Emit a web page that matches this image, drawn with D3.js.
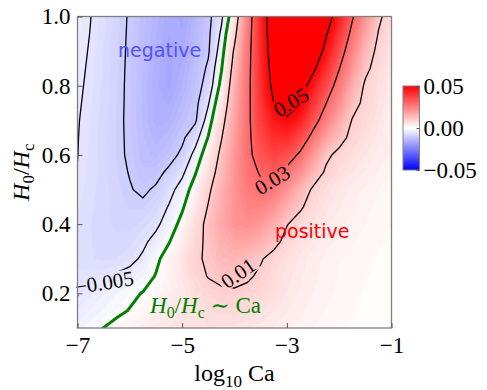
<!doctype html>
<html>
<head>
  <meta charset='utf-8'>
  <style>
    body { margin: 0; background: #fff; }
    svg text { font-family: 'Liberation Serif', 'DejaVu Serif', serif; }
    .tick text { font-size: 23px; }
  </style>
</head>
<body>
  <svg width='487' height='390'></svg>
  <script src='https://d3js.org/d3.v7.min.js'></script>
  <script>
    // grid: log10 Ca along x, H0/Hc along y
    var logCa = [-7, -6.75, -6.5, -6.25, -6, -5.75, -5.5, -5.25, -5, -4.75, -4.5, -4.25,
                 -4, -3.75, -3.5, -3.25, -3, -2.75, -2.5, -2.25, -2, -1.75, -1.5, -1.25, -1];
    var ratio = [0.1, 0.15, 0.2, 0.25, 0.3, 0.35, 0.4, 0.45, 0.5, 0.55,
                 0.6, 0.65, 0.7, 0.75, 0.8, 0.85, 0.9, 0.95, 1.0];

    // field values, in units of 1e-3, one row per H0/Hc value
    var row010 = [-2.6, -1.3, 0.05, 1.3, 2.5, 3.5, 4.4, 5.1, 5.6, 5.9, 6.0, 5.9, 5.6, 5.1, 4.5, 3.9, 3.2, 2.6, 2.0, 1.6, 1.2, 0.9, 0.6, 0.45, 0.3];
    var row015 = [-3.9, -2.9, -1.9, -0.9, 0.2, 1.4, 2.6, 3.8, 4.9, 5.9, 6.8, 7.3, 7.4, 6.9, 6.05, 5.1, 4.1, 3.25, 2.5, 1.95, 1.45, 1.1, 0.75, 0.55, 0.4];
    var row020 = [-5.2, -4.2, -3.1, -2.0, -0.9, 0.2, 1.5, 3.0, 4.6, 6.3, 8.0, 9.0, 9.2, 8.6, 7.6, 6.3, 5.0, 3.9, 3.0, 2.3, 1.7, 1.3, 0.9, 0.7, 0.5];
    var row025 = [-5.75, -5.55, -5.15, -4.5, -3.55, -2.05, 0.25, 2.6, 5.05, 8.0, 10.3, 11.4, 11.75, 10.8, 9.05, 7.15, 5.5, 4.25, 3.25, 2.5, 1.9, 1.45, 1.05, 0.8, 0.6];
    var row030 = [-6.3, -6.9, -7.2, -7.0, -6.2, -4.3, -1.0, 2.2, 5.5, 8.7, 11.2, 13.8, 14.3, 13, 10.5, 8, 6, 4.6, 3.5, 2.7, 2.1, 1.6, 1.2, 0.9, 0.7];
    var row035 = [-6.25, -6.95, -7.45, -7.65, -7.35, -5.95, -3.5, -0.25, 3.55, 7.65, 11.6, 15.4, 17.65, 17.5, 15.25, 12, 8.15, 6.05, 4.55, 3.5, 2.7, 2.1, 1.6, 1.15, 0.85];
    var row040 = [-6.2, -7.0, -7.7, -8.3, -8.5, -7.6, -6, -2.7, 1.6, 6.6, 12, 17, 21, 22, 20, 16, 10.3, 7.5, 5.6, 4.3, 3.3, 2.6, 2, 1.4, 1];
    var row045 = [-5.85, -6.8, -7.65, -8.5, -9.1, -9.2, -7.7, -4.65, -0.7, 4.55, 10.4, 16, 21, 24, 24, 21, 15.75, 11, 7.3, 5.4, 4.05, 3.1, 2.35, 1.7, 1.25];
    var row050 = [-5.5, -6.6, -7.6, -8.7, -9.75, -10.75, -9.4, -6.6, -3, 2.5, 8.75, 15, 21, 26, 28, 26, 21, 14.5, 9, 6.5, 4.8, 3.6, 2.7, 2, 1.5];
    var row055 = [-5.1, -6.45, -7.65, -8.9, -10.2, -11.7, -11.35, -9.1, -6.05, -0.45, 6.1, 13.45, 20.5, 27.05, 30.75, 31.5, 27.75, 21.55, 14.5, 8.95, 6.5, 5.05, 3.85, 2.9, 2.2];
    var row060 = [-4.95, -6.3, -7.7, -9.1, -10.6, -12.6, -13.3, -11.6, -9.1, -3.4, 3.4, 11.9, 20, 28.1, 33.5, 37, 34.5, 28.6, 20, 11.4, 8.2, 6.5, 5, 3.8, 2.9];
    var row065 = [-4.9, -6.2, -7.65, -9.1, -10.7, -12.9, -14.45, -13.3, -10.85, -7.05, 0.35, 9.6, 18.75, 28, 35.75, 41, 41.5, 36.3, 27, 18.2, 12.55, 8.05, 6.2, 4.5, 2.95];
    var row070 = [-4.8, -6.1, -7.6, -9.05, -10.85, -13.2, -15.6, -15, -12.6, -10.7, -2.7, 7.3, 17.5, 27.9, 38, 45, 48.5, 44, 34, 25, 16.9, 9.6, 7.4, 5.2, 3];
    var row075 = [-4.6, -5.9, -7.45, -8.98, -10.8, -13.2, -15.7, -16.15, -13.8, -11.35, -5.4, 4.5, 16.25, 27.7, 39, 50, 55, 51, 39.5, 30.2, 21.5, 12.8, 8.2, 5.85, 3.5];
    var row080 = [-4.4, -5.7, -7.3, -8.9, -10.8, -13.2, -15.8, -17.3, -15, -12, -8.1, 1.7, 15, 27.5, 40, 53, 61.5, 56, 44.5, 35.4, 26, 16, 9, 6.5, 4];
    var row085 = [-4.2, -5.5, -7.2, -8.85, -10.7, -13.05, -15.5, -17.3, -15.75, -12.6, -9.3, -0.4, 13.1, 27, 40.5, 55, 63.75, 62.5, 52.25, 40.85, 30.35, 20, 11.5, 7.4, 4.75];
    var row090 = [-4.0, -5.3, -7.05, -8.8, -10.6, -12.9, -15.2, -17.3, -16.5, -13.2, -10.5, -2.5, 11.2, 26.4, 40.9, 57, 66, 69, 60, 46.3, 34.7, 24, 14, 8.3, 5.5];
    var row095 = [-3.75, -5.1, -6.9, -8.7, -10.5, -12.7, -14.9, -17.0, -16.9, -13.85, -10.9, -4.2, 7.7, 25.4, 41.1, 58.5, 67, 70.5, 63.5, 51, 39, 27.5, 17.5, 9.7, 6.2];
    var row100 = [-3.5, -4.95, -6.7, -8.6, -10.4, -12.5, -14.6, -16.7, -17.2, -14.5, -11.3, -5.9, 4.2, 24.4, 41.3, 60, 68, 72, 67, 56, 43.8, 31, 21, 11.2, 7];

    var levels = [-0.01, -0.005, 0.01, 0.03, 0.05];
    var xTicks = [-7, -5, -3, -1];
    var yTicks = [0.2, 0.4, 0.6, 0.8, 1.0];
    var cbarTicks = [-0.05, 0, 0.05];

    // inline contour labels: text, [log10 Ca, H0/Hc], rotation
    var clabels = [
      {text: '0.05', at: [-2.92, 0.753], angle: -31},
      {text: '0.03', at: [-3.28, 0.528], angle: -31},
      {text: '0.01', at: [-3.93, 0.259], angle: -35},
      {text: '\u22120.005', at: [-6.49, 0.232], angle: -9}
    ];

    var rows = [row010, row015, row020, row025, row030, row035, row040, row045, row050, row055,
                row060, row065, row070, row075, row080, row085, row090, row095, row100];
    var values = [];
    rows.forEach(function(r) { r.forEach(function(v) { values.push(v * 1e-3); }); });
    var nx = logCa.length, ny = ratio.length;

    var svg = d3.select('svg');
    var plot = {left: 77.5, top: 16.5, right: 391.5, bottom: 328};

    var x = d3.scaleLinear().domain([-7, -1]).range([plot.left, plot.right]);
    var y = d3.scaleLinear().domain([0.1, 1.0]).range([plot.bottom, plot.top]);

    // grid coordinates of d3.contours -> pixels (value i sits at i + 0.5)
    var gx = d3.scaleLinear().domain([0.5, nx - 0.5]).range([x(logCa[0]), x(logCa[nx - 1])]);
    var gy = d3.scaleLinear().domain([0.5, ny - 0.5]).range([y(ratio[0]), y(ratio[ny - 1])]);
    var path = d3.geoPath(d3.geoTransform({
      point: function(px, py) { this.stream.point(gx(px), gy(py)); }
    }));

    var color = d3.scaleLinear()
                  .domain([-0.05, 0, 0.05])
                  .range(['#0000ff', '#ffffff', '#ff0000'])
                  .clamp(true);

    var defs = svg.append('defs');
    defs.append('clipPath').attr('id', 'clip')
        .append('rect')
        .attr('x', plot.left).attr('y', plot.top)
        .attr('width', plot.right - plot.left).attr('height', plot.bottom - plot.top);

    // heat map as fine filled bands
    var step = 0.001;
    var bands = d3.range(-20, 76).map(function(i) { return i * step; });
    var heat = svg.append('g').attr('clip-path', 'url(#clip)');
    heat.selectAll('path')
        .data(d3.contours().size([nx, ny]).thresholds(bands)(values))
        .enter().append('path')
        .attr('d', path)
        .attr('fill', function(d) { return color(d.value + step / 2); })
        .attr('stroke', function(d) { return color(d.value + step / 2); })
        .attr('stroke-width', 0.4);

    // gaps in contour lines where labels go
    var mask = defs.append('mask').attr('id', 'gaps')
                   .attr('maskUnits', 'userSpaceOnUse')
                   .attr('x', 0).attr('y', 0).attr('width', 487).attr('height', 390);
    mask.append('rect').attr('width', 487).attr('height', 390).attr('fill', '#fff');

    var clip2 = svg.append('g').attr('clip-path', 'url(#clip)');
    var lines = clip2.append('g').attr('mask', 'url(#gaps)');
    lines.selectAll('path')
         .data(d3.contours().size([nx, ny]).thresholds(levels)(values))
         .enter().append('path')
         .attr('d', path)
         .attr('fill', 'none')
         .attr('stroke', '#000')
         .attr('stroke-width', 1.3);

    clip2.append('path')
         .datum(d3.contours().size([nx, ny]).thresholds([0])(values)[0])
         .attr('d', path)
         .attr('fill', 'none')
         .attr('stroke', '#008000')
         .attr('stroke-width', 3);

    var labelG = svg.append('g');
    clabels.forEach(function(l) {
      var tf = 'translate(' + x(l.at[0]) + ',' + y(l.at[1]) + ') rotate(' + l.angle + ')';
      var t = labelG.append('text')
                    .attr('transform', tf)
                    .attr('text-anchor', 'middle')
                    .attr('dy', '0.35em')
                    .style('font-size', '21px')
                    .text(l.text);
      var w = t.node().getComputedTextLength();
      mask.append('rect')
          .attr('transform', tf)
          .attr('x', -w / 2 - 3).attr('y', -9)
          .attr('width', w + 6).attr('height', 18)
          .attr('fill', '#000');
    });

    // region annotations
    svg.append('text')
       .attr('x', 118).attr('y', 57)
       .style('font-family', "'DejaVu Sans', sans-serif")
       .style('font-size', '19px')
       .attr('fill', '#5252ff')
       .text('negative');
    svg.append('text')
       .attr('x', 275).attr('y', 238)
       .style('font-family', "'DejaVu Sans', sans-serif")
       .style('font-size', '19px')
       .attr('fill', '#ff0000')
       .text('positive');

    var ann = svg.append('text')
                 .attr('x', 150).attr('y', 313)
                 .attr('fill', '#008000')
                 .style('font-size', '23px');
    ann.append('tspan').style('font-style', 'italic').text('H');
    ann.append('tspan').attr('dy', 5).style('font-size', '16px').text('0');
    ann.append('tspan').attr('dy', -5).text('/');
    ann.append('tspan').style('font-style', 'italic').text('H');
    ann.append('tspan').attr('dy', 5).style('font-size', '16px').text('c');
    ann.append('tspan').attr('dy', -5).text(' \u223C Ca');

    // frame and axes
    svg.append('rect')
       .attr('x', plot.left).attr('y', plot.top)
       .attr('width', plot.right - plot.left).attr('height', plot.bottom - plot.top)
       .attr('fill', 'none').attr('stroke', '#808080').attr('stroke-width', 1.3);

    var xAxis = svg.append('g')
                   .attr('transform', 'translate(0,' + plot.bottom + ')')
                   .call(d3.axisBottom(x).tickValues(xTicks).tickSize(-5).tickPadding(9)
                           .tickFormat(d3.format('d')));
    var yAxis = svg.append('g')
                   .attr('transform', 'translate(' + plot.left + ',0)')
                   .call(d3.axisLeft(y).tickValues(yTicks).tickSize(-5).tickPadding(7)
                           .tickFormat(d3.format('.1f')));
    [xAxis, yAxis].forEach(function(a) {
      a.select('.domain').remove();
      a.selectAll('.tick line').attr('stroke', '#555');
      a.selectAll('.tick text').attr('fill', '#000').style('font-family', "'Liberation Serif', serif");
    });

    var xl = svg.append('text')
                .attr('x', (plot.left + plot.right) / 2).attr('y', 381)
                .attr('text-anchor', 'middle')
                .style('font-size', '24px');
    xl.append('tspan').text('log');
    xl.append('tspan').attr('dy', 6).style('font-size', '17px').text('10');
    xl.append('tspan').attr('dy', -6).text(' Ca');

    var yl = svg.append('text')
                .attr('transform', 'translate(29,' + (plot.top + plot.bottom) / 2 + ') rotate(-90)')
                .attr('text-anchor', 'middle')
                .style('font-size', '24px');
    yl.append('tspan').style('font-style', 'italic').text('H');
    yl.append('tspan').attr('dy', 5).style('font-size', '17px').text('0');
    yl.append('tspan').attr('dy', -5).text('/');
    yl.append('tspan').style('font-style', 'italic').text('H');
    yl.append('tspan').attr('dy', 5).style('font-size', '17px').text('c');

    // colour bar
    var cb = {left: 403, width: 16.5, top: 86, bottom: 170};
    var grad = defs.append('linearGradient').attr('id', 'cbgrad')
                   .attr('x1', 0).attr('y1', 1).attr('x2', 0).attr('y2', 0);
    d3.range(0, 11).forEach(function(i) {
      var v = -0.05 + i * 0.01;
      grad.append('stop').attr('offset', i / 10).attr('stop-color', color(v));
    });
    svg.append('rect')
       .attr('x', cb.left).attr('y', cb.top)
       .attr('width', cb.width).attr('height', cb.bottom - cb.top)
       .attr('fill', 'url(#cbgrad)')
       .attr('stroke', '#808080').attr('stroke-width', 1);
    var cbScale = d3.scaleLinear().domain([-0.05, 0.05]).range([cb.bottom, cb.top]);
    var cAxis = svg.append('g')
                   .attr('transform', 'translate(' + (cb.left + cb.width) + ',0)')
                   .call(d3.axisRight(cbScale).tickValues(cbarTicks).tickSize(-3).tickPadding(4)
                           .tickFormat(d3.format('.2f')));
    cAxis.select('.domain').remove();
    cAxis.selectAll('.tick line').attr('stroke', '#555');
    cAxis.selectAll('.tick text').attr('fill', '#000').style('font-family', "'Liberation Serif', serif");
  </script>
</body>
</html>
